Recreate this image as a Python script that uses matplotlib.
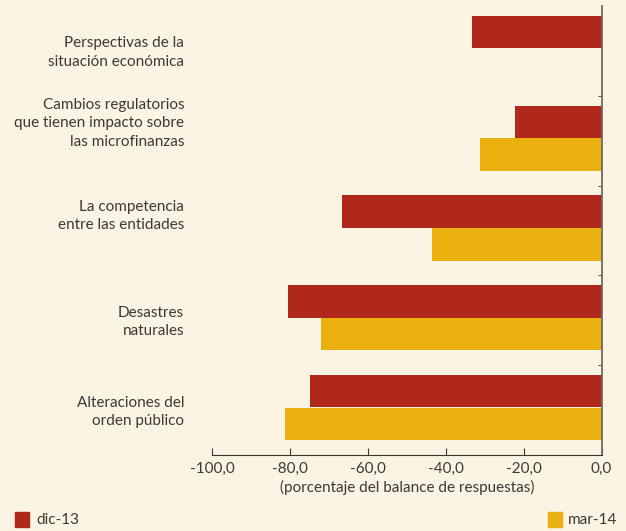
import numpy as np
import matplotlib
matplotlib.use('Agg')
from matplotlib import pyplot as plt
from matplotlib import transforms
from matplotlib.ticker import FixedLocator, FuncFormatter

plt.rcParams['font.family'] = ['Lato', 'DejaVu Sans']

categorias = ['Perspectivas de la\nsituación económica',
              'Cambios regulatorios\nque tienen impacto sobre\nlas microfinanzas',
              'La competencia\nentre las entidades',
              'Desastres\nnaturales',
              'Alteraciones del\norden público']
dic13 = [-33.2, -22.1, -66.6, -80.4, -74.8]
mar14 = [np.nan, -31.1, -43.4, -72.0, -81.2]
series = ['dic-13', 'mar-14']
xticks = [-100, -80, -60, -40, -20, 0]

bg = '#fcf4e3'
rojo = '#b0281c'
oro = '#e9b00f'
txt = '#3c3835'

fig = plt.figure(figsize=(6.26, 5.31), dpi=100, facecolor=bg)
ax = fig.add_axes([0.3387, 0.1431, 0.6222, 0.8456], facecolor=bg)

y = np.arange(len(categorias))
h = 0.36
ax.barh(y - 0.21, dic13, height=h, color=rojo, edgecolor='none')
ax.barh(y + 0.155, mar14, height=h, color=oro, edgecolor='none')

ax.set_xlim(-100, 0)
ax.set_ylim(4.5, -0.5)

for s in ['top', 'left']:
    ax.spines[s].set_visible(False)
ax.spines['bottom'].set_color('#3a3632')
ax.spines['right'].set_color('#6f6a62')
ax.spines['right'].set_linewidth(1.3)

ax.xaxis.set_major_locator(FixedLocator(xticks))
ax.xaxis.set_major_formatter(FuncFormatter(lambda v, p: ('%.1f' % v).replace('.', ',')))
ax.tick_params(axis='x', direction='in', length=5, color='#3a3632',
               labelsize=11, labelcolor=txt, pad=5)

ax.set_yticks(y)
ax.set_yticklabels(categorias, fontsize=11, color=txt, linespacing=1.4)
ax.tick_params(axis='y', which='major', length=0, pad=20)
ax.yaxis.set_minor_locator(FixedLocator([0.5, 1.5, 2.5, 3.5]))
ax.tick_params(axis='y', which='minor', left=False, right=True, direction='in',
               length=3, color='#3a3632')

# subir un poco algunas etiquetas como en el original
desp = [2, 21, 18, 2, 2]
for lab, d in zip(ax.get_yticklabels(), desp):
    lab.set_transform(lab.get_transform() + transforms.ScaledTranslation(0, d / 100, fig.dpi_scale_trans))

ax.set_xlabel('(porcentaje del balance de respuestas)', fontsize=11, color=txt, labelpad=3)

# leyenda en las esquinas de abajo
fig.patches.append(plt.Rectangle((15 / 626, 4 / 531), 14 / 626, 15 / 531,
                                 transform=fig.transFigure, color=rojo))
fig.text(36 / 626, 11 / 531, series[0], fontsize=11, color=txt, va='center')
fig.patches.append(plt.Rectangle((548 / 626, 4 / 531), 14 / 626, 15 / 531,
                                 transform=fig.transFigure, color=oro))
fig.text(568 / 626, 11 / 531, series[1], fontsize=11, color=txt, va='center')

plt.savefig('out.png', dpi=100, facecolor=bg)
